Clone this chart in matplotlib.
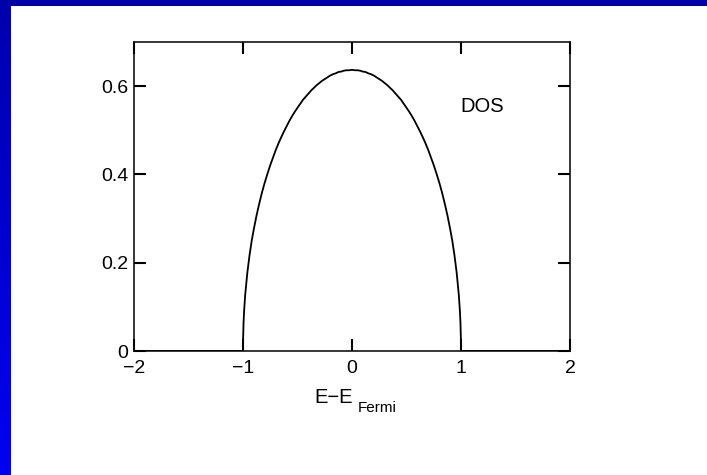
import numpy as np
import matplotlib
matplotlib.use("Agg")
import matplotlib.pyplot as plt
from matplotlib.colors import LinearSegmentedColormap

plt.rcParams['font.family'] = ['Liberation Sans', 'DejaVu Sans']

# Energy grid (relative to the Fermi level) and density of states
energy = [-2.0, -1.0, -0.999, -0.995, -0.99, -0.98, -0.96, -0.94, -0.92, -0.9,
          -0.875, -0.85, -0.825, -0.8, -0.775, -0.75, -0.725, -0.7, -0.675,
          -0.65, -0.625, -0.6, -0.575, -0.55, -0.525, -0.5, -0.475, -0.45,
          -0.425, -0.4, -0.375, -0.35, -0.325, -0.3, -0.275, -0.25, -0.225,
          -0.2, -0.175, -0.15, -0.125, -0.1, -0.075, -0.05, -0.025, 0.0,
          0.025, 0.05, 0.075, 0.1, 0.125, 0.15, 0.175, 0.2, 0.225, 0.25,
          0.275, 0.3, 0.325, 0.35, 0.375, 0.4, 0.425, 0.45, 0.475, 0.5,
          0.525, 0.55, 0.575, 0.6, 0.625, 0.65, 0.675, 0.7, 0.725, 0.75,
          0.775, 0.8, 0.825, 0.85, 0.875, 0.9, 0.92, 0.94, 0.96, 0.98,
          0.99, 0.995, 0.999, 1.0, 2.0]
dos = [0.0, 0.0, 0.028, 0.064, 0.090, 0.127, 0.178, 0.217, 0.250, 0.277,
       0.308, 0.335, 0.360, 0.382, 0.402, 0.421, 0.438, 0.455, 0.470,
       0.484, 0.497, 0.509, 0.521, 0.532, 0.542, 0.551, 0.560, 0.569,
       0.576, 0.583, 0.590, 0.596, 0.602, 0.607, 0.612, 0.616, 0.620,
       0.624, 0.627, 0.629, 0.632, 0.633, 0.635, 0.636, 0.636, 0.637,
       0.636, 0.636, 0.635, 0.633, 0.632, 0.629, 0.627, 0.624, 0.620, 0.616,
       0.612, 0.607, 0.602, 0.596, 0.590, 0.583, 0.576, 0.569, 0.560, 0.551,
       0.542, 0.532, 0.521, 0.509, 0.497, 0.484, 0.470, 0.455, 0.438, 0.421,
       0.402, 0.382, 0.360, 0.335, 0.308, 0.277, 0.250, 0.217, 0.178, 0.127,
       0.090, 0.064, 0.028, 0.0, 0.0]

x_ticks = [-2, -1, 0, 1, 2]
x_ticklabels = ['\u22122', '\u22121', '0', '1', '2']
y_ticks = [0, 0.2, 0.4, 0.6]
y_ticklabels = ['0', '0.2', '0.4', '0.6']

fig = plt.figure(figsize=(7.07, 4.75), dpi=100)
fig.patch.set_facecolor('white')

# Slide frame: dark band along the top, blue gradient band on the left
W, H = 707, 475
left_band = fig.add_axes([0, 0, 11 / W, 1])
left_band.set_axis_off()
grad = np.linspace(0, 1, 256).reshape(-1, 1)
cmap = LinearSegmentedColormap.from_list('band', ['#0000AE', '#0000F2'])
left_band.imshow(grad, aspect='auto', cmap=cmap, extent=[0, 1, 1, 0])
top_band = fig.add_axes([0, 1 - 6 / H, 1, 6 / H])
top_band.set_axis_off()
top_band.add_patch(plt.Rectangle((0, 0), 1, 1, color='#0000AA', transform=top_band.transAxes))

ax = fig.add_axes([134 / W, 1 - 351 / H, (570 - 134) / W, (351 - 42) / H])
ax.plot(energy, dos, color='black', linewidth=1.3)

ax.set_xlim(-2, 2)
ax.set_ylim(0, 0.7)
ax.set_xticks(x_ticks)
ax.set_xticklabels(x_ticklabels)
ax.set_yticks(y_ticks)
ax.set_yticklabels(y_ticklabels)
ax.tick_params(direction='in', length=8.5, width=1.5, top=True, right=True,
               labelsize=14)
ax.tick_params(axis='x', pad=6.5)
ax.tick_params(axis='y', pad=4)
for s in ax.spines.values():
    s.set_linewidth(1.1)

ax.text(0.798, 0.79, 'DOS', transform=ax.transAxes, ha='center', va='center',
        fontsize=14.5)

# Axis label with subscript drawn as two pieces
fig.text(334 / W, 1 - 403 / H, 'E\u2212E', ha='center', va='baseline', fontsize=14.5)
fig.text(358 / W, 1 - 412 / H, 'Fermi', ha='left', va='baseline', fontsize=11)

fig.savefig('out.png', dpi=100)
